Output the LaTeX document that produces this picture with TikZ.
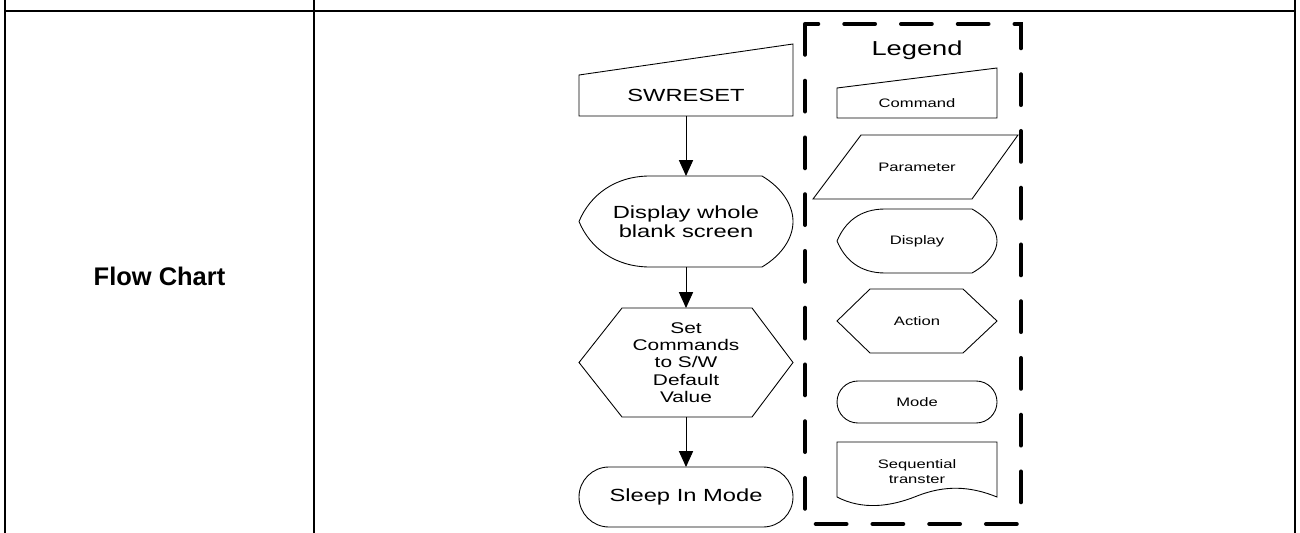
\documentclass[tikz,border=0pt]{standalone}
\usepackage{fontspec}
\setmainfont{Liberation Sans}
\newfontfamily\chartfont[FakeStretch=1.35]{Liberation Sans}
\usetikzlibrary{arrows.meta}

\begin{document}
\begin{tikzpicture}[x=0.02cm, y=-0.02cm,
	tbl/.style={line width=1.1pt},
	shp/.style={line width=0.5pt},
	arr/.style={line width=0.55pt, -{Triangle[length=9pt, width=8pt]}},
	flowtxt/.style={font=\chartfont\fontsize{10}{10.5}\selectfont, align=center,
		inner sep=0pt, outer sep=0pt, minimum width=4.28cm},
	legtxt/.style={font=\chartfont\fontsize{7}{8.5}\selectfont, align=center,
		inner sep=0pt, outer sep=0pt, minimum width=3.2cm}]
	\useasboundingbox (0,0) rectangle (1300,533);
	% table rules
	\draw[tbl] (5,0) -- (5,533);
	\draw[tbl] (314,0) -- (314,533);
	\draw[tbl] (1295,0) -- (1295,533);
	\draw[tbl] (5,11) -- (1295,11);
	\node[font=\bfseries\fontsize{14.5}{16}\selectfont] (title) at (159.5,276) {Flow Chart};
	% flow chart steps
	\node[flowtxt, minimum height=0.82cm] (swreset) at (686,95.5) {SWRESET};
	\node[flowtxt, minimum height=1.82cm] (disp) at (686,221.5) {Display whole\\blank screen};
	\node[flowtxt, minimum height=2.18cm, font=\chartfont\fontsize{8.8}{9.9}\selectfont] (setcmd) at (686,362.5)
		{Set\\Commands\\to S/W\\Default\\Value};
	\node[flowtxt, minimum height=1.2cm] (sleep) at (686,497) {Sleep In Mode};
	% outlines
	\draw[shp] (579,75) -- (793,44) -- (793,116) -- (579,116) -- cycle;
	\draw[shp] (762,176) -- (650,176) .. controls (615,176) and (590,195) .. (579,221.5)
		.. controls (590,248) and (615,267) .. (650,267) -- (762,267)
		.. controls (782,255) and (793,238) .. (793,221.5)
		.. controls (793,205) and (782,188) .. cycle;
	\draw[shp] (622,308) -- (752,308) -- (793,362.5) -- (752,417) -- (622,417) -- (579,362.5) -- cycle;
	\draw[shp, rounded corners=0.6cm] (579,467) rectangle (793,527);
	% connectors
	\draw[arr] (swreset.south) -- (disp.north);
	\draw[arr] (disp.south) -- (setcmd.north);
	\draw[arr] (setcmd.south) -- (sleep.north);
	% legend
	\draw[line width=2.3pt, dash pattern=on 17.5pt off 14.8pt, line cap=round] (805,24) rectangle (1021,524);
	\node[font=\chartfont\fontsize{11.5}{12}\selectfont] (legend) at (917,50) {Legend};
	\node[legtxt, minimum height=0.6cm] (lcmd) at (917,103) {Command};
	\node[legtxt, minimum height=1.28cm] (lpar) at (917,167) {Parameter};
	\node[legtxt, minimum height=1.28cm] (ldisp) at (917,241) {Display};
	\node[legtxt, minimum height=1.28cm] (lact) at (917,321) {Action};
	\node[legtxt, minimum height=0.84cm] (lmode) at (917,402) {Mode};
	\node[legtxt] (lseq) at (917,472) {Sequential\\transter};
	\draw[shp] (837,88) -- (997,68) -- (997,118) -- (837,118) -- cycle;
	\draw[shp] (861,135) -- (1018,135) -- (972,199) -- (813,199) -- cycle;
	\draw[shp] (972,209) -- (885,209) .. controls (860,209) and (845,222) .. (837,241)
		.. controls (845,260) and (860,273) .. (885,273) -- (972,273)
		.. controls (988,264) and (997,252) .. (997,241)
		.. controls (997,230) and (988,218) .. cycle;
	\draw[shp] (870,289) -- (963,289) -- (997,321) -- (963,353) -- (870,353) -- (837,321) -- cycle;
	\draw[shp, rounded corners=0.42cm] (837,381) rectangle (997,423);
	\draw[shp] (837,497) -- (837,442) -- (997,442) -- (997,497)
		.. controls (970,486) and (945,485) .. (917,496)
		.. controls (890,507) and (862,510) .. cycle;
\end{tikzpicture}
\end{document}
